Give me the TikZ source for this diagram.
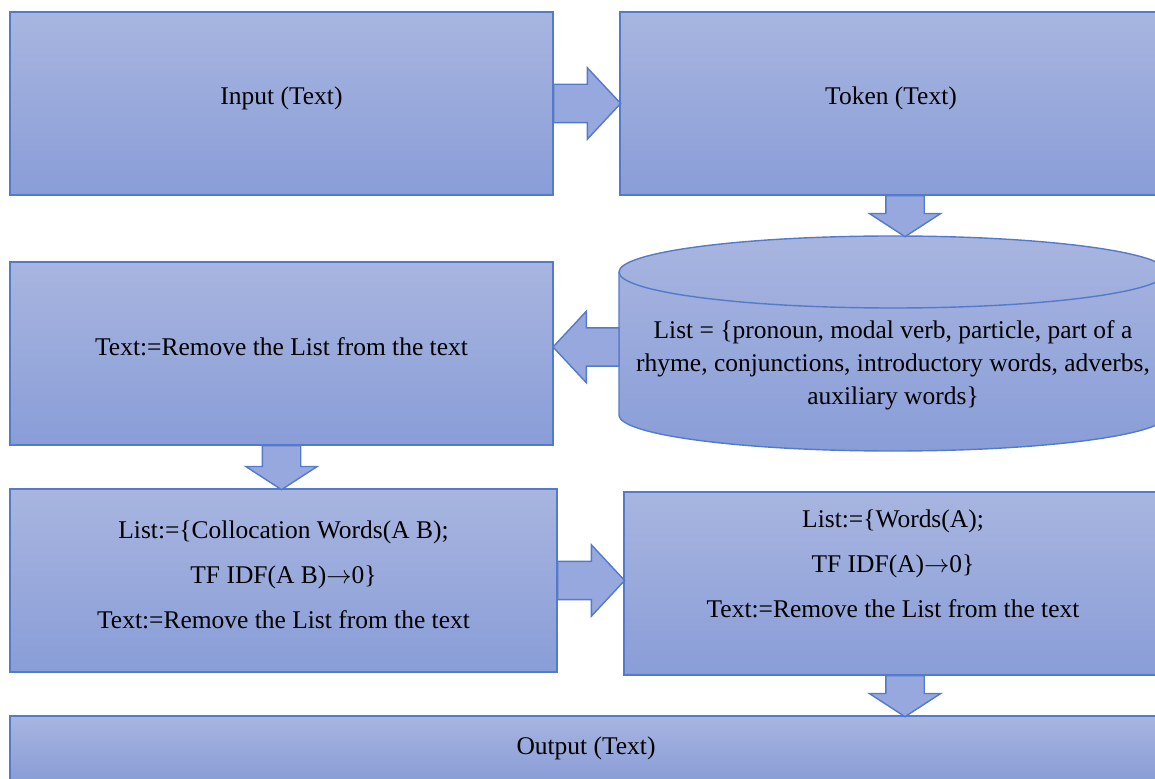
\documentclass[tikz,border=0pt]{standalone}
\usepackage{fontspec}
\setmainfont{Liberation Serif}
\usetikzlibrary{shapes.arrows, positioning, calc}
\definecolor{boxtop}{RGB}{168,181,224}
\definecolor{boxbot}{RGB}{137,157,215}
\definecolor{boxline}{RGB}{84,122,204}
\definecolor{arrfill}{RGB}{150,168,221}
\tikzset{
  box/.style={draw=boxline, line width=0.8pt, top color=boxtop, bottom color=boxbot,
    minimum height=3.66cm, inner sep=2pt, align=center,
    font=\fontsize{14.5pt}{18.7pt}\selectfont},
  boxwide/.style={box, font=\fontsize{14.5pt}{25.5pt}\selectfont},
  blockarr/.style={single arrow, draw=boxline, line width=0.8pt, fill=arrfill,
    inner xsep=0pt, inner ysep=0.37cm, minimum width=0pt, outer sep=0pt,
    single arrow head extend=0.33cm, single arrow tip angle=94, minimum height=#1,
    pos=0, anchor=tail},
}
\begin{document}
\begin{tikzpicture}[x=0.02cm, y=0.02cm]
\useasboundingbox (0,0) rectangle (1155,778);
\node[box, minimum width=10.86cm, text depth=0.31cm] (inp) at (281.5,674.5) {Input (Text)};
\node[box, minimum width=10.84cm, text depth=0.31cm] (tok) at (891,674.5) {Token (Text)};
\node[box, minimum width=10.86cm, text depth=0.28cm] (rem) at (281.5,424.5) {Text:=Remove the List from the text};
\node[boxwide, minimum width=10.94cm, text depth=0.24cm] (col) at (283.5,197.5)
  {List:=\{Collocation Words(A B);\\TF IDF(A B)$\rightarrow$0\}\\Text:=Remove the List from the text};
\node[boxwide, minimum width=10.76cm, text depth=0.8cm] (wrd) at (893,194.5)
  {List:=\{Words(A);\\TF IDF(A)$\rightarrow$0\}\\Text:=Remove the List from the text};
\node[box, minimum width=23.04cm, minimum height=1.28cm] (out) at (586,30) {Output (Text)};
\draw[draw=boxline, line width=0.8pt, top color=boxtop, bottom color=boxbot]
  (619,506) -- (619,363) arc[start angle=180, end angle=360, x radius=274, y radius=36]
  -- (1167,506) arc[start angle=0, end angle=180, x radius=274, y radius=36] -- cycle;
\draw[boxline, line width=0.8pt] (619,506) arc[start angle=180, end angle=360, x radius=274, y radius=36];
\node[align=center, font=\fontsize{14.5pt}{18.7pt}\selectfont] (lst) at (893,413)
  {List = \{pronoun, modal verb, particle, part of a\\rhyme, conjunctions, introductory words, adverbs,\\auxiliary words\}};
\coordinate (cyltop) at (905,542);
\coordinate (cylw) at (619,431);
\path (inp.east) -- (tok.west) node[blockarr=1.34cm] (a1) {};
\path ([xshift=0.28cm]tok.south) -- (cyltop) node[blockarr=0.82cm, rotate=-90, single arrow tip angle=114] (a2) {};
\path (cylw) -- (cylw -| rem.east) node[blockarr=1.32cm, rotate=180] (a3) {};
\path (rem.south) -- (rem.south |- col.north) node[blockarr=0.88cm, rotate=-90, single arrow tip angle=114] (a4) {};
\path (col.east) -- (col.east -| wrd.west) node[blockarr=1.34cm] (a5) {};
\path ([xshift=0.24cm]wrd.south) -- ([xshift=0.24cm]wrd.south |- out.north) node[blockarr=0.82cm, rotate=-90, single arrow tip angle=114] (a6) {};
\end{tikzpicture}
\end{document}
